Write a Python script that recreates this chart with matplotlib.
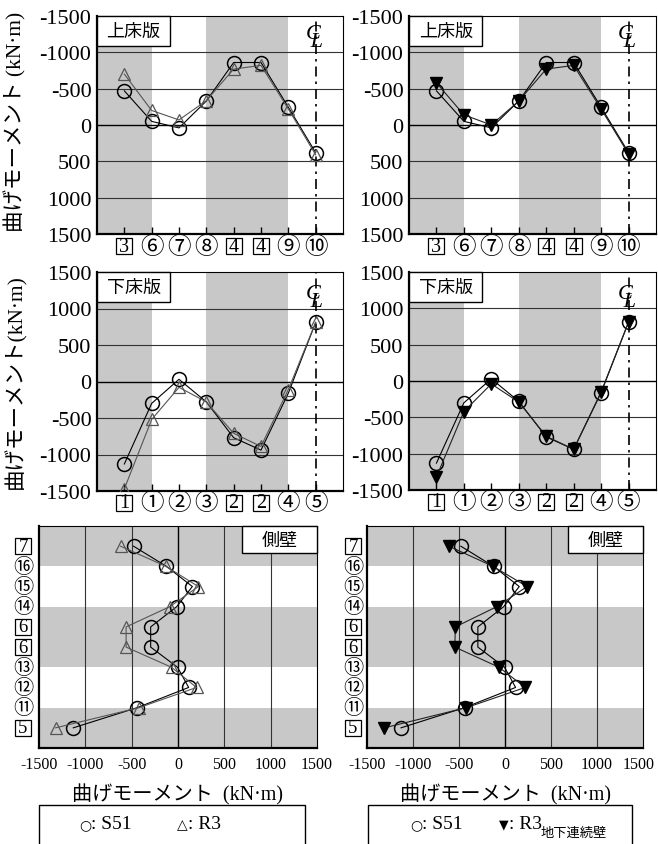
import numpy as np
import matplotlib
matplotlib.use('Agg')
import matplotlib.pyplot as plt
from matplotlib.patches import Rectangle
from matplotlib.transforms import blended_transform_factory, offset_copy, ScaledTranslation

plt.rcParams['font.family'] = ['Liberation Serif', 'Noto Sans CJK JP']
plt.rcParams['axes.unicode_minus'] = False

# data
top_cats = ['3', '⑥', '⑦', '⑧', '4', '4', '⑨', '⑩']
top_boxed = [True, False, False, False, True, True, False, False]
top_s51 = [-470, -50, 40, -330, -860, -860, -245, 380]
top_r3 = [-700, -200, -70, -335, -770, -820, -220, 410]
top_r3w = [-580, -140, 0, -330, -770, -820, -220, 400]

bot_cats = ['1', '①', '②', '③', '2', '2', '④', '⑤']
bot_boxed = [True, False, False, False, True, True, False, False]
bot_s51 = [-1130, -300, 30, -280, -770, -940, -160, 810]
bot_r3 = [-1470, -520, -80, -280, -710, -890, -110, 810]
bot_r3w = [-1320, -420, -40, -290, -760, -940, -150, 810]

side_cats = ['7', '⑯', '⑮', '⑭', '6', '6', '⑬', '⑫', '⑪', '5']
side_boxed = [True, False, False, False, True, True, False, False, False, True]
side_s51 = [-480, -125, 155, -15, -295, -295, -5, 115, -440, -1130]
side_r3 = [-620, -130, 220, -90, -560, -560, -70, 200, -420, -1320]
side_r3w = [-610, -130, 240, -90, -540, -545, -65, 220, -420, -1310]

W, H = 658, 845
GRAY = '#c8c8c8'
CJK = 'Noto Sans CJK JP'
SERIF = 'Liberation Serif'

fig = plt.figure(figsize=(W / 100, H / 100), dpi=100)


def rect(l, t, r, b):
    return [l / W, 1 - b / H, (r - l) / W, (b - t) / H]


def cat_label(ax, tr, pos, lab, boxed, csize, bsize):
    if boxed:
        ax.plot([pos[0]], [pos[1]], marker='s', ms=bsize, mfc='white', mec='black',
                mew=0.9, transform=tr, clip_on=False, zorder=5)
        ax.text(pos[0], pos[1], lab, transform=tr, ha='center', va='center',
                fontsize=bsize + 2.5, family=SERIF, zorder=6)
    else:
        ax.text(pos[0], pos[1], lab, transform=tr, ha='center', va='center',
                fontsize=csize, family=CJK, zorder=6)


def name_box(ax, x0, y0, w, h, txt):
    ax.add_patch(Rectangle((x0, y0), w, h, transform=ax.transAxes, fc='white',
                           ec='black', lw=1, zorder=4, clip_on=False))
    ax.text(x0 + w / 2, y0 + h / 2, txt, transform=ax.transAxes, ha='center',
            va='center', fontsize=13, family=CJK, zorder=5)


def slab(ax, cats, boxed, s51, r3, filled, lims, title, spans, cl_y):
    x = np.arange(1, len(cats) + 1)
    for a, b in spans:
        ax.axvspan(a, b, color=GRAY, lw=0, zorder=0)
    for v in [-1000, -500, 500, 1000]:
        ax.axhline(v, color='#333333', lw=0.8, zorder=1)
    ax.axhline(0, color='black', lw=1.0, zorder=1)
    ax.axvline(8, color='black', lw=1.2, ls=(0, (6, 3, 1.5, 3)), zorder=2)
    ax.plot(x, s51, color='black', lw=0.8, marker='o', ms=10, mfc='none',
            mec='black', mew=1.1, zorder=3)
    if filled:
        ax.plot(x, r3, color='#222222', lw=0.8, marker='v', ms=8, mfc='black',
                mec='black', zorder=3)
    else:
        ax.plot(x, r3, color='#555555', lw=0.8, marker='^', ms=9, mfc='none',
                mec='#555555', mew=0.9, zorder=3)
    ax.set_xlim(0, 9)
    ax.set_ylim(*lims)
    ax.set_yticks([-1500, -1000, -500, 0, 500, 1000, 1500])
    ax.tick_params(axis='y', length=0, labelsize=16, pad=4)
    ax.set_xticks(x)
    ax.set_xticklabels([])
    ax.tick_params(axis='x', direction='in', length=5, width=1)
    ax.spines['left'].set_linewidth(1.6)
    ax.spines['bottom'].set_linewidth(1.6)
    tr = offset_copy(blended_transform_factory(ax.transData, ax.transAxes),
                     fig=fig, x=0, y=-12, units='dots')
    for xi, lab, bx in zip(x, cats, boxed):
        cat_label(ax, tr, (xi, 0), lab, bx, 17, 12)
    name_box(ax, 0, 0.862, 0.297, 0.138, title)
    # centre line mark: C over L
    ax.text(7.95, cl_y, 'C\n L', transform=blended_transform_factory(ax.transData, ax.transAxes),
            ha='center', va='center', multialignment='left', linespacing=0.22,
            fontsize=16, family=SERIF, style='italic', zorder=5)


def wall(ax, s51, r3, filled, lab_dx):
    y = np.arange(1, len(side_cats) + 1)
    for a, b in [(0, 2), (4, 7), (9, 11)]:
        ax.axhspan(a, b, color=GRAY, lw=0, zorder=0)
    for v in [-1000, -500, 500, 1000]:
        ax.axvline(v, color='#333333', lw=0.8, zorder=1)
    ax.axvline(0, color='black', lw=1.0, zorder=1)
    ax.plot(s51, y, color='black', lw=0.8, marker='o', ms=10, mfc='none',
            mec='black', mew=1.1, zorder=3)
    if filled:
        ax.plot(r3, y, color='#222222', lw=0.8, marker='v', ms=8, mfc='black',
                mec='black', zorder=3)
    else:
        ax.plot(r3, y, color='#555555', lw=0.8, marker='^', ms=9, mfc='none',
                mec='#555555', mew=0.9, zorder=3)
    ax.set_ylim(11, 0)
    ax.set_xlim(-1500, 1500)
    ax.set_xticks([-1500, -1000, -500, 0, 500, 1000, 1500])
    ax.tick_params(axis='x', length=0, labelsize=11.5, pad=6)
    ax.set_yticks(y)
    ax.set_yticklabels([])
    ax.tick_params(axis='y', length=0)
    ax.spines['left'].set_linewidth(1.6)
    ax.spines['bottom'].set_linewidth(1.6)
    tr = offset_copy(blended_transform_factory(ax.transAxes, ax.transData),
                     fig=fig, x=lab_dx, y=0, units='dots')
    for yi, lab, bx in zip(y, side_cats, side_boxed):
        cat_label(ax, tr, (0, yi), lab, bx, 14.5, 11)
    name_box(ax, 0.73, 0.878, 0.27, 0.122, '側壁')
    ax.set_xlabel('曲げモーメント  (kN·m)', fontsize=14.5, labelpad=8)


ax1 = fig.add_axes(rect(97, 17, 343, 235))
slab(ax1, top_cats, top_boxed, top_s51, top_r3, False, (1500, -1500), '上床版', [(0, 2), (4, 7)], 0.9)
ax2 = fig.add_axes(rect(409, 17, 656, 235))
slab(ax2, top_cats, top_boxed, top_s51, top_r3w, True, (1500, -1500), '上床版', [(0, 2), (4, 7)], 0.9)
ax3 = fig.add_axes(rect(97, 273, 343, 492))
slab(ax3, bot_cats, bot_boxed, bot_s51, bot_r3, False, (-1500, 1500), '下床版', [(0, 2), (4, 7)], 0.885)
ax4 = fig.add_axes(rect(409, 273, 656, 491))
slab(ax4, bot_cats, bot_boxed, bot_s51, bot_r3w, True, (-1500, 1500), '下床版', [(0, 2), (4, 7)], 0.885)
ax5 = fig.add_axes(rect(39, 527, 317, 749))
wall(ax5, side_s51, side_r3, False, -16)
ax6 = fig.add_axes(rect(367, 527, 643, 749))
wall(ax6, side_s51, side_r3w, True, -14)

# keep the last tick label of the right wall panel inside the picture
last = ax6.get_xticklabels()[-1]
last.set_transform(last.get_transform() + ScaledTranslation(-4 / 100, 0, fig.dpi_scale_trans))

fig.text(15 / W, 1 - 122 / H, '曲げモーメント (kN·m)', rotation=90, ha='center', va='center', fontsize=15.5)
fig.text(15 / W, 1 - 382 / H, '曲げモーメント(kN·m)', rotation=90, ha='center', va='center', fontsize=15.5)

# legend boxes
for l, r in [(39, 305), (368, 632)]:
    fig.add_artist(Rectangle((l / W, -0.01), (r - l) / W, 1 - 806 / H + 0.01,
                             transform=fig.transFigure, fc='white', ec='black', lw=1))
ly = 1 - 825 / H
fig.text(85 / W, ly, '○', ha='center', va='center', fontsize=10, family='DejaVu Sans')
fig.text(91 / W, ly, ': S51', ha='left', va='center', fontsize=14)
fig.text(182 / W, ly, '△', ha='center', va='center', fontsize=10, family='DejaVu Sans')
fig.text(188 / W, ly, ': R3', ha='left', va='center', fontsize=14)
fig.text(416 / W, ly, '○', ha='center', va='center', fontsize=10, family='DejaVu Sans')
fig.text(422 / W, ly, ': S51', ha='left', va='center', fontsize=14)
fig.text(504 / W, ly, '▼', ha='center', va='center', fontsize=9, family='DejaVu Sans')
fig.text(509 / W, ly, ': R3', ha='left', va='center', fontsize=14)
fig.text(541 / W, 1 - 833 / H, '地下連続壁', ha='left', va='center', fontsize=9.5, family=CJK)

fig.savefig('out.png', dpi=100)
